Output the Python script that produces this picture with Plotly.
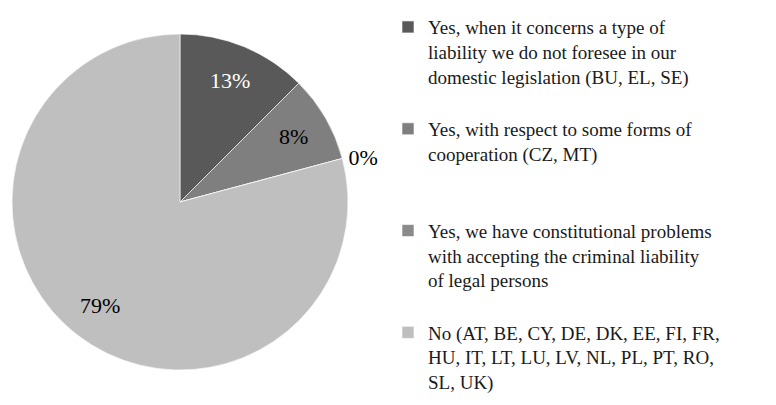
import math
import plotly.graph_objects as go

# Survey answers and number of member states per answer
labels = [
    "Yes, when it concerns a type of<br>liability we do not foresee in our<br>domestic legislation (BU, EL, SE)<br>&nbsp;",
    "Yes, with respect to some forms of<br>cooperation (CZ, MT)<br>&nbsp;<br>&nbsp;",
    "Yes, we have constitutional problems<br>with accepting the criminal liability<br>of legal persons<br>&nbsp;",
    "No (AT, BE, CY, DE, DK, EE, FI, FR,<br>HU, IT, LT, LU, LV, NL, PL, PT, RO,<br>SL, UK)",
]
counts = [3, 2, 0, 19]
colors = ["#595959", "#7f7f7f", "#8a8a8a", "#bfbfbf"]
text_colors = ["#ffffff", "#000000", "#000000", "#000000"]

W, H = 776, 405
cx, cy, r = 180, 202, 168
label_radius = 0.78  # fraction of the pie radius where inside labels sit

total = sum(counts)
shares = [c / total for c in counts]

# Empty slices get their percentage outside the pie; the rest are annotated below
templates = ["%{percent:.0%}" if c == 0 else "" for c in counts]

fig = go.Figure(
    go.Pie(
        labels=labels,
        values=counts,
        sort=False,
        direction="clockwise",
        rotation=0,
        marker=dict(colors=colors, line=dict(color="#ffffff", width=0.6)),
        texttemplate=templates,
        textposition="outside",
        textfont=dict(family="Liberation Serif", size=22, color="#000000"),
        domain=dict(
            x=[(cx - r) / W, (cx + r) / W],
            y=[(H - cy - r) / H, (H - cy + r) / H],
        ),
        showlegend=True,
        hoverinfo="skip",
    )
)

# Percentage labels placed at the angular middle of each non-empty slice
start = 0.0
for share, col in zip(shares, text_colors):
    mid = (start + share / 2) * 2 * math.pi
    start += share
    if share == 0:
        continue
    px = cx + label_radius * r * math.sin(mid)
    py = cy - label_radius * r * math.cos(mid)
    pct = int(share * 100 + 0.5)  # round half up
    fig.add_annotation(
        x=px / W,
        y=1 - py / H,
        xref="paper",
        yref="paper",
        text=f"{pct}%",
        showarrow=False,
        font=dict(family="Liberation Serif", size=22, color=col),
        xanchor="center",
        yanchor="middle",
    )

fig.update_layout(
    width=W,
    height=H,
    margin=dict(l=0, r=0, t=0, b=0),
    paper_bgcolor="#ffffff",
    plot_bgcolor="#ffffff",
    showlegend=True,
    legend=dict(
        x=0.5,
        y=0.98,
        xanchor="left",
        yanchor="top",
        valign="top",
        font=dict(family="Liberation Serif", size=19, color="#1a1a1a"),
        bgcolor="rgba(0,0,0,0)",
        traceorder="normal",
    ),
)

fig.write_html("out.html")
